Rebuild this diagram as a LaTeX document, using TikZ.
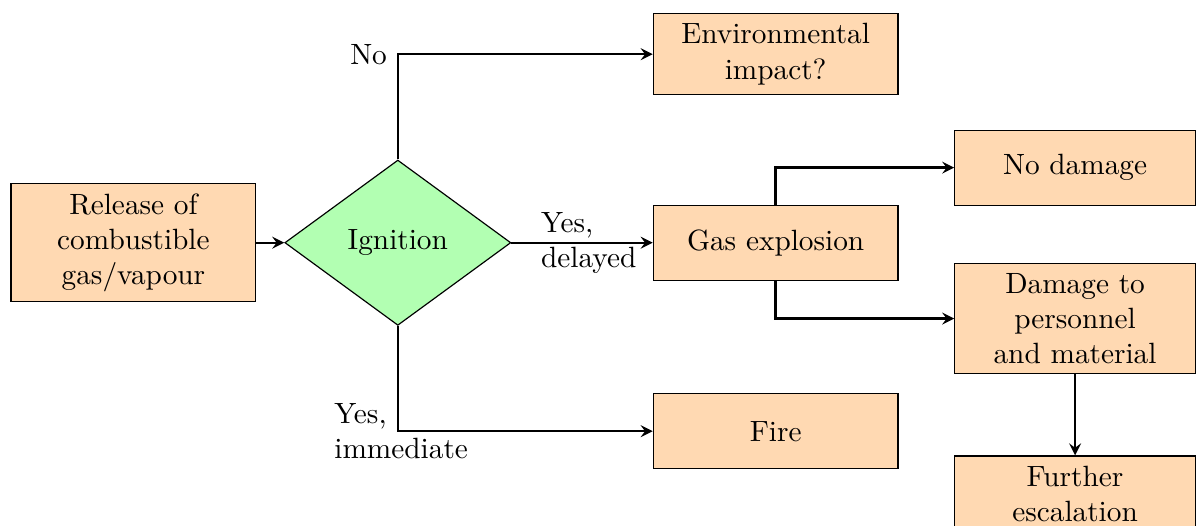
\documentclass[tikz,border=0pt]{standalone}
\usepackage{tikz}
\usetikzlibrary{shapes.geometric}

\begin{document}
\begin{tikzpicture}[
    box/.style={draw,fill=orange!30,text width=2.7cm,align=center,minimum height=0.9cm},
    decision/.style={draw,diamond,fill=green!30,minimum width=2.71cm,minimum height=1.97cm},
    flow/.style={-stealth,thick}]
  \useasboundingbox (0,0) rectangle (14.34,-6.295);
  \node[box] (release) at (1.60,-2.91) {Release of combustible gas/vapour};
  \node[decision] (ignition) at (4.77,-2.91) {Ignition};
  \node[box] (env) at (9.30,-0.65) {Environmental impact?};
  \node[box] (gas) at (9.30,-2.91) {Gas explosion};
  \node[box] (fire) at (9.30,-5.17) {Fire};
  \node[box,text width=2.65cm] (nodamage) at (12.89,-2.01) {No damage};
  \node[box,text width=2.65cm] (damage) at (12.89,-3.82) {Damage to personnel and material};
  \node[box,text width=2.65cm,anchor=north] (escalation) at (12.89,-5.46) {Further\\escalation};
  \draw[flow] (release) -- (ignition);
  \draw[flow] (ignition.north) |- (env.west) node[pos=0.5,left] {No};
  \draw[flow] (ignition.east) -- (gas.west) node[midway,align=left,xshift=0.08cm] {Yes,\\delayed};
  \draw[flow] (ignition.south) |- (fire.west) node[pos=0.5,align=left,xshift=0.04cm] {Yes,\\immediate};
  \draw[flow] (gas.north) |- (nodamage.west);
  \draw[flow] (gas.south) |- (damage.west);
  \draw[flow] (damage) -- (escalation);
\end{tikzpicture}
\end{document}
